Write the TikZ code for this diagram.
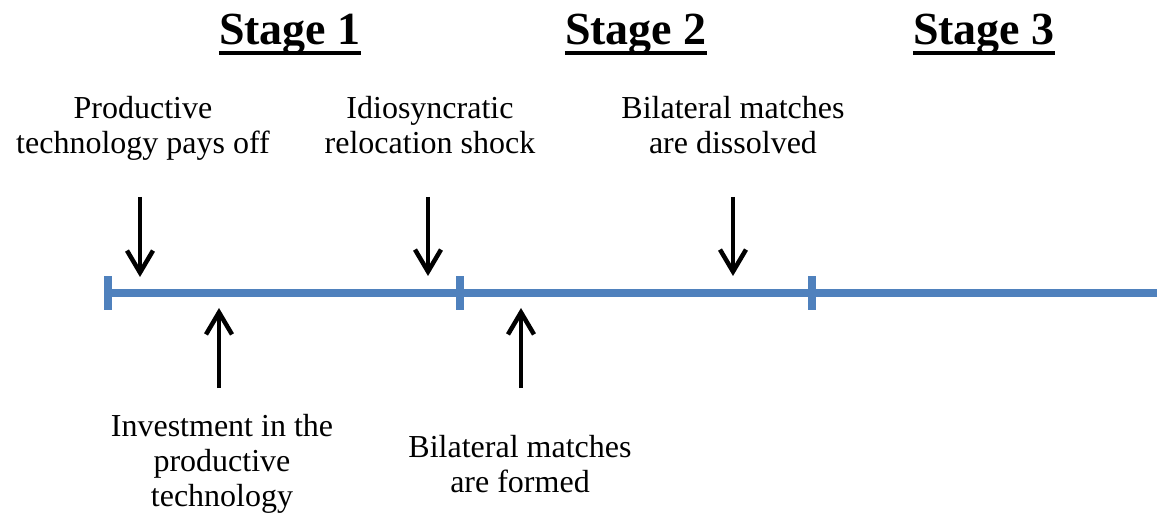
\documentclass[tikz,border=0pt]{standalone}
\usepackage{fontspec}
\setmainfont{Liberation Serif}
\usetikzlibrary{arrows.meta}
\definecolor{tlblue}{RGB}{79,129,189}
\begin{document}
\begin{tikzpicture}[x=1pt,y=-1pt,
  lbl/.style={font=\fontsize{32}{35}\selectfont, align=center, inner sep=0pt},
  title/.style={font=\fontsize{46}{50}\selectfont\bfseries, inner sep=0pt, anchor=base},
  uline/.style={line width=4pt},
  tl/.style={draw=tlblue, line width=8pt},
  evarrow/.style={draw=black, line width=4.5pt, -{Straight Barb[length=22pt,width=26pt]}}]
\useasboundingbox (0,0) rectangle (1157,521);
% titles
\node[title] (s1) at (290,45) {Stage 1};
\node[title] (s2) at (636,45) {Stage 2};
\node[title] (s3) at (984,45) {Stage 3};
\foreach \s in {s1,s2,s3}{
  \draw[uline] ([yshift=-8pt]\s.base west) -- ([yshift=-8pt]\s.base east);
}
% timeline
\coordinate (t0) at (108,293.5);
\coordinate (t1) at (460,293.5);
\coordinate (t2) at (812,293.5);
\coordinate (tend) at (1160,293.5);
\draw[tl] (t0) -- (tend);
\foreach \t in {t0,t1,t2}{
  \draw[tl] ([yshift=17pt]\t) -- ([yshift=-17pt]\t);
}
% upper labels
\node[lbl, anchor=north] (a) at (143,96) {Productive\\technology pays off};
\node[lbl, anchor=north] (b) at (430,96) {Idiosyncratic\\relocation shock};
\node[lbl, anchor=north] (c) at (733,96) {Bilateral matches\\are dissolved};
% lower labels
\node[lbl, anchor=north] (d) at (222,414) {Investment in the\\productive\\technology};
\node[lbl, anchor=north] (e) at (520,435) {Bilateral matches\\are formed};
% arrow end points
\coordinate (a1) at (140,197); \coordinate (a2) at (140,277);
\coordinate (b1) at (428,197); \coordinate (b2) at (428,276);
\coordinate (c1) at (733,197); \coordinate (c2) at (733,276);
\coordinate (d1) at (219,388); \coordinate (d2) at (219,308);
\coordinate (e1) at (521,388); \coordinate (e2) at (521,308);
\draw[evarrow] (a1) -- (a2);
\draw[evarrow] (b1) -- (b2);
\draw[evarrow] (c1) -- (c2);
\draw[evarrow] (d1) -- (d2);
\draw[evarrow] (e1) -- (e2);
\end{tikzpicture}
\end{document}
